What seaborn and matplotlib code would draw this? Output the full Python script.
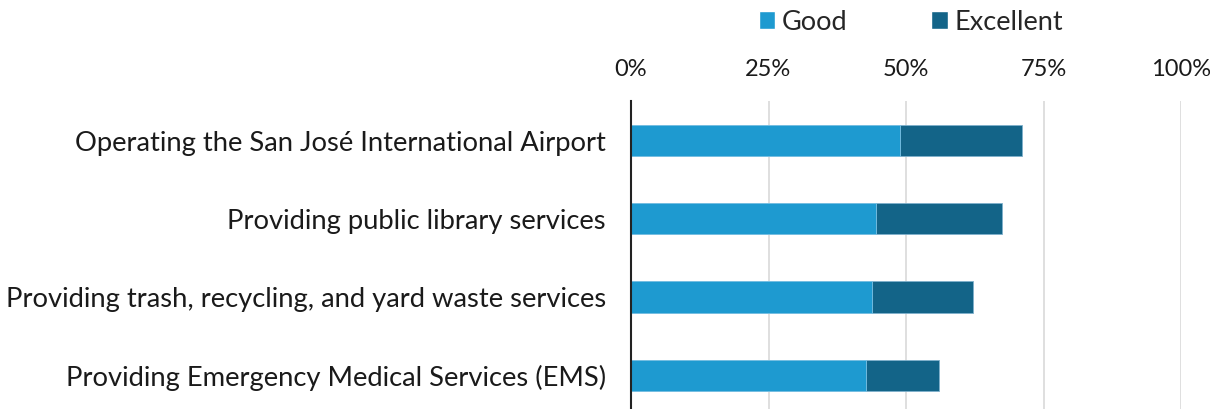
import matplotlib
matplotlib.use("Agg")
import matplotlib.pyplot as plt
import seaborn as sns
import pandas as pd
from matplotlib.patches import Patch

categories = [
    "Operating the San José International Airport",
    "Providing public library services",
    "Providing trash, recycling, and yard waste services",
    "Providing Emergency Medical Services (EMS)",
]
good = [48.9, 44.5, 43.8, 42.8]
excellent = [22.1, 22.9, 18.3, 13.2]
tick_values = [0, 25, 50, 75, 100]
tick_labels = ["0%", "25%", "50%", "75%", "100%"]

c_good = "#1E9AD0"
c_exc = "#136488"

df = pd.DataFrame({"cat": categories, "good": good,
                   "total": [g + e for g, e in zip(good, excellent)]})

sns.set_style("white")
plt.rcParams["font.family"] = ["Lato", "DejaVu Sans"]

fig = plt.figure(figsize=(12.1, 4.09), dpi=100)
ax = fig.add_axes([631/1210, 0, 550/1210, (409-101)/409])

sns.barplot(data=df, y="cat", x="total", color=c_exc, orient="h", width=0.4,
            ax=ax, saturation=1, edgecolor="#7FB0CC", linewidth=0.6, zorder=3)
sns.barplot(data=df, y="cat", x="good", color=c_good, orient="h", width=0.4,
            ax=ax, saturation=1, edgecolor="#7FC4E6", linewidth=0.6, zorder=4)

ax.set_xlim(0, 100)
ax.set_ylim(3.43, -0.505)
ax.set_xticks(tick_values)
ax.set_xticklabels(tick_labels)
ax.xaxis.tick_top()
ax.tick_params(axis="x", length=0, pad=15, labelsize=17, colors="#1a1a1a")
ax.tick_params(axis="y", length=0, pad=18, labelsize=19.7, colors="#1a1a1a")
ax.set_xlabel("")
ax.set_ylabel("")
ax.grid(axis="x", color="#D9D9D9", linewidth=1.2, zorder=0)
ax.set_axisbelow(True)
for s in ["top", "right", "bottom"]:
    ax.spines[s].set_visible(False)
ax.spines["left"].set_color("#222222")
ax.spines["left"].set_linewidth(1.5)
ax.spines["left"].set_zorder(5)

handles = [Patch(facecolor=c_good, label="Good"),
           Patch(facecolor=c_exc, label="Excellent")]
fig.legend(handles=handles, loc="center", bbox_to_anchor=(911/1210, 1 - 22/409),
           ncol=2, frameon=False, fontsize=19.5, handlelength=0.6, handleheight=0.6,
           handletextpad=0.26, columnspacing=3.1)

fig.savefig("out.png", dpi=100)
